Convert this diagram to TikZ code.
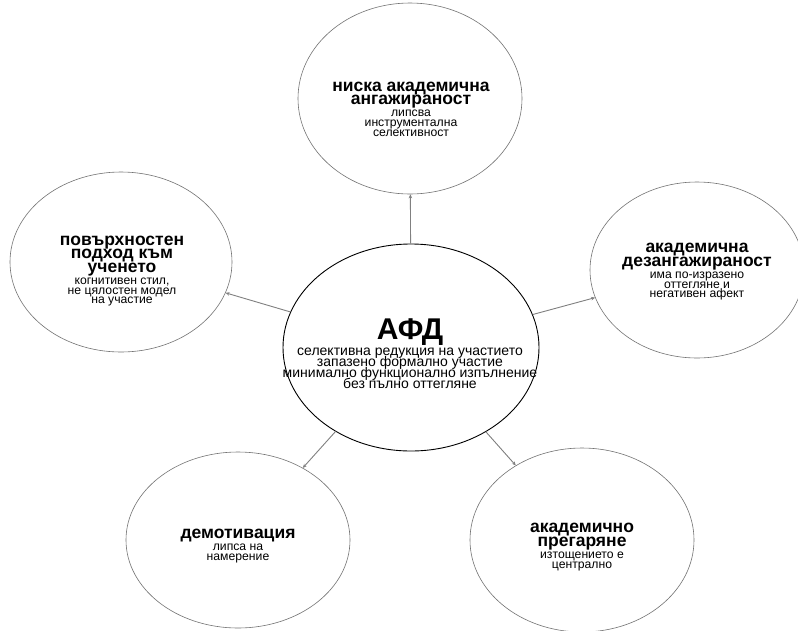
\documentclass[tikz,border=0pt]{standalone}
\usepackage{fontspec}
\setmainfont{Liberation Sans}
\usetikzlibrary{shapes.geometric,arrows.meta}
\newcommand{\ttlf}{\fontsize{17.5}{13}\selectfont\bfseries}
\newcommand{\sbtf}{\fontsize{12.2}{9.6}\selectfont\mdseries}
\newcommand{\hubt}{\fontsize{30}{26}\selectfont\bfseries}
\newcommand{\hubs}{\fontsize{14}{11}\selectfont\mdseries}
\newcommand{\outerbase}{\fontsize{12.2}{9.6}\selectfont\lineskiplimit=-50pt\relax}
\newcommand{\hubbase}{\fontsize{14}{11}\selectfont\lineskiplimit=-50pt\relax}
\tikzset{
  outer/.style={ellipse, draw=black!55, line width=0.6pt, inner sep=0pt},
  hub/.style={ellipse, draw=black, line width=0.9pt, inner sep=0pt},
  link/.style={draw=black!50, line width=0.9pt, -{Stealth[length=4pt,width=3.5pt]}},
  txt/.style={align=center, inner sep=0pt, text=black, font=\outerbase},
  hubtxt/.style={align=center, inner sep=0pt, text=black, font=\hubbase},
}
\begin{document}
\begin{tikzpicture}[x=1pt,y=-1pt]
\useasboundingbox (0,0) rectangle (798,630);
\clip (0,0) rectangle (798,630);
\fill[white] (0,0) rectangle (798,630);
% ellipses
\node[hub, minimum width=256, minimum height=207] (c) at (411,347.5) {};
\node[outer, minimum width=224, minimum height=191] (t) at (410,98.5) {};
\node[outer, minimum width=222, minimum height=180] (l) at (121,262) {};
\node[outer, minimum width=214, minimum height=176] (r) at (697,270) {};
\node[outer, minimum width=224, minimum height=176] (bl) at (238,540) {};
\node[outer, minimum width=224, minimum height=184] (br) at (582,540) {};
% connectors
\draw[link] (c) -- (t);
\draw[link] (c) -- (l);
\draw[link] (c) -- (r);
\draw[link] (c) -- (bl);
\draw[link] (c) -- (br);
% texts
\node[hubtxt] (ct) at (410,354) {\hubt АФД\\[5pt]
  \hubs селективна редукция на участието\\\hubs запазено формално участие\\\hubs минимално функционално изпълнение\\\hubs без пълно оттегляне};
\node[txt] (tt) at (411,109) {\ttlf ниска академична\\[4pt]\ttlf ангажираност\\[2.5pt]\sbtf липсва\\\sbtf инструментална\\\sbtf селективност};
\node[txt] (lt) at (122,271) {\ttlf повърхностен\\[4pt]\ttlf подход към\\[4pt]\ttlf ученето\\[2.5pt]\sbtf когнитивен стил,\\\sbtf не цялостен модел\\\sbtf на участие};
\node[txt] (rt) at (697,272) {\ttlf академична\\[4pt]\ttlf дезангажираност\\[2.5pt]\sbtf има по-изразено\\\sbtf оттегляне и\\\sbtf негативен афект};
\node[txt] (blt) at (238,546) {\ttlf демотивация\\[2.5pt]\sbtf липса на\\\sbtf намерение};
\node[txt] (brt) at (582,547) {\ttlf академично\\[4pt]\ttlf прегаряне\\[2.5pt]\sbtf изтощението е\\\sbtf централно};
\end{tikzpicture}
\end{document}
